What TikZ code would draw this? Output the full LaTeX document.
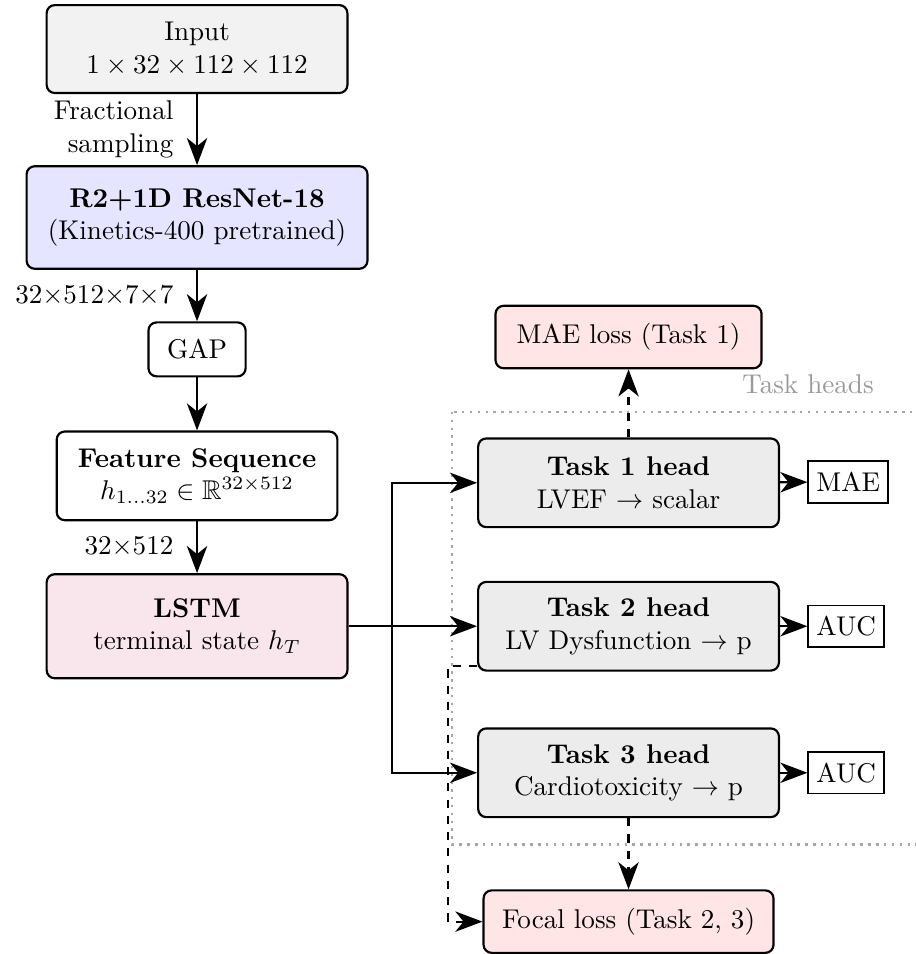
\documentclass[tikz,border=0pt]{standalone}
\usepackage{amsmath, amssymb}
\usepackage{tikz}
\usetikzlibrary{arrows.meta, positioning}

\begin{document}
\begin{tikzpicture}[thick,
    block/.style={draw, rounded corners=3pt, align=center, inner sep=3pt},
    loss/.style={block, fill=red!10, minimum height=0.81cm},
    head/.style={block, fill=gray!15, minimum width=3.9cm, minimum height=1.15cm},
    metric/.style={draw, semithick, inner sep=3pt, minimum height=0.54cm, anchor=west},
    flow/.style={-{Stealth[length=10pt, width=7.5pt, inset=3pt]}, thick},
    lossflow/.style={flow, dashed}]
    \useasboundingbox (0,0) rectangle (11.87,-12.37);

    % backbone column
    \node[block, fill=gray!10, minimum width=3.9cm, minimum height=1.14cm] at (2.555,-0.636) (in) {Input\\$1 \times 32 \times 112 \times 112$};
    \node[block, fill=blue!10, minimum width=4.42cm, minimum height=1.33cm] at (2.555,-2.82) (r2) {\textbf{R2+1D ResNet-18}\\(Kinetics-400 pretrained)};
    \node[block, minimum width=1.26cm, minimum height=0.70cm] at (2.555,-4.53) (gap) {GAP};
    \node[block, minimum width=3.64cm, minimum height=1.15cm] at (2.555,-6.17) (feat) {\textbf{Feature Sequence}\\$h_{1\ldots32} \in \mathbb{R}^{32\times512}$};
    \node[block, fill=purple!10, minimum width=3.9cm, minimum height=1.35cm] at (2.555,-8.12) (lstm) {\textbf{LSTM}\\terminal state $h_T$};

    % task heads
    \draw[gray!70, line width=0.9pt, dotted] (5.86,-5.34) rectangle (11.95,-10.95);
    \node[text=gray!80, anchor=east] at (11.46,-4.98) (heads) {Task heads};
    \node[head] at (8.15,-6.26) (t1) {\textbf{Task 1 head}\\LVEF $\to$ scalar};
    \node[head] at (8.15,-8.12) (t2) {\textbf{Task 2 head}\\LV Dysfunction $\to$ p};
    \node[head] at (8.15,-10.02) (t3) {\textbf{Task 3 head}\\Cardiotoxicity $\to$ p};

    \node[metric] at (10.47,-6.25) (m1) {MAE};
    \node[metric] at (10.47,-8.12) (m2) {AUC};
    \node[metric] at (10.47,-10.02) (m3) {AUC};

    % losses
    \node[loss, minimum width=3.45cm] at (8.15,-4.37) (l1) {MAE loss (Task 1)};
    \node[loss, minimum width=3.76cm] at (8.15,-11.95) (l2) {Focal loss (Task 2, 3)};

    \coordinate (split) at (5.08,-8.12);
    \coordinate[left=4.5mm of l2.west] (drop);

    \draw[flow] (in) -- (r2) node[midway, left=5pt, align=right] {Fractional\\sampling};
    \draw[flow] (r2) -- (gap) node[midway, left=5pt] {$32{\times}512{\times}7{\times}7$};
    \draw[flow] (gap) -- (feat);
    \draw[flow] (feat) -- (lstm) node[midway, left=5pt] {$32{\times}512$};

    \draw[flow] (lstm) -- (t2);
    \draw[flow] (split) |- (t1);
    \draw[flow] (split) |- (t3);

    \draw[flow] (t1) -- (m1);
    \draw[flow] (t2) -- (m2);
    \draw[flow] (t3) -- (m3);

    \draw[lossflow] (t1) -- (l1);
    \draw[lossflow] (t3) -- (l2);
    \draw[lossflow] ([yshift=2pt]t2.south west) -| (drop) -- (l2);
\end{tikzpicture}
\end{document}
